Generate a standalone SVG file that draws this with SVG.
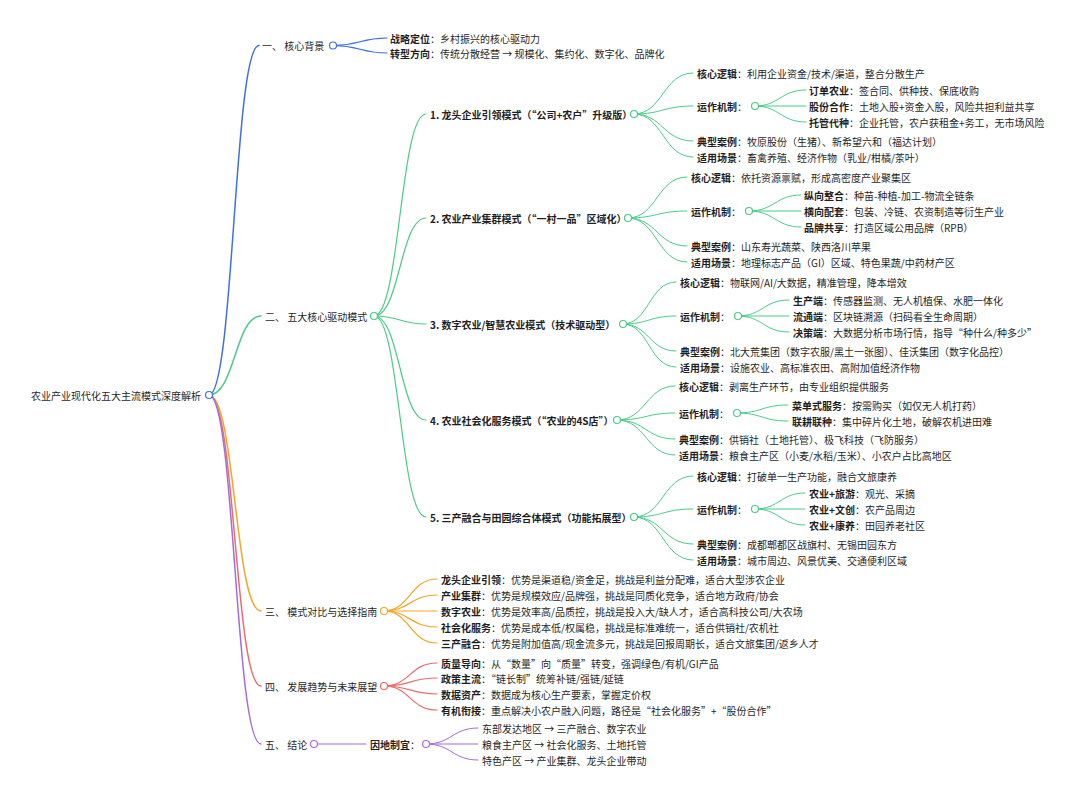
<svg xmlns="http://www.w3.org/2000/svg" width="1080" height="796" viewBox="0 0 1080 796">
<style>
text{font-family:"Noto Sans CJK SC","Noto Sans",sans-serif;font-size:10px;fill:#1f1f1f;dominant-baseline:central}
.b{font-weight:bold}
.l{fill:none;stroke-linecap:round}
.w1{stroke-width:1.5}
.w2{stroke-width:1.2}
.w3{stroke-width:1}
.cb{stroke:#3f70e4}
.cg{stroke:#4acb86}
.co{stroke:#f4a62a}
.cr{stroke:#ec6b6b}
.cp{stroke:#a56be0}
circle{fill:#fff;stroke-width:1.2}
</style>
<rect width="1080" height="796" fill="#fff"/>
<g id="connectors">
<path class="l w1 cb" d="M209,395 C234,395 234,45.5 259,45.5"/>
<path class="l w1 cg" d="M209,395 C235,395 235,316 261,316"/>
<path class="l w1 co" d="M209,395 C235,395 235,611 261,611"/>
<path class="l w1 cr" d="M209,395 C235,395 235,686 261,686"/>
<path class="l w1 cp" d="M209,395 C235,395 235,744 261,744"/>
<path class="l w2 cb" d="M333,45.5 C360,45.5 360,38 387,38"/>
<path class="l w2 cb" d="M333,45.5 C360,45.5 360,53 387,53"/>
<path class="l w2 cg" d="M374,316 C400,316 400,114 426,114"/>
<path class="l w2 cg" d="M374,316 C400,316 400,218 426,218"/>
<path class="l w2 cg" d="M374,316 C400,316 400,324 426,324"/>
<path class="l w2 cg" d="M374,316 C400,316 400,420 426,420"/>
<path class="l w2 cg" d="M374,316 C400,316 400,517 426,517"/>
<path class="l w3 cg" d="M634,114 C663,114 663,73 693,73"/>
<path class="l w3 cg" d="M634,114 C663,114 663,106 693,106"/>
<path class="l w3 cg" d="M634,114 C663,114 663,141 693,141"/>
<path class="l w3 cg" d="M634,114 C663,114 663,157 693,157"/>
<path class="l w3 cg" d="M755,106 C780,106 780,90 806,90"/>
<path class="l w3 cg" d="M755,106 L806,106"/>
<path class="l w3 cg" d="M755,106 C780,106 780,122 806,122"/>
<path class="l w3 cg" d="M628,218 C657,218 657,177 687,177"/>
<path class="l w3 cg" d="M628,218 C657,218 657,211 687,211"/>
<path class="l w3 cg" d="M628,218 C657,218 657,246 687,246"/>
<path class="l w3 cg" d="M628,218 C657,218 657,262 687,262"/>
<path class="l w3 cg" d="M749,211 C775,211 775,195 801,195"/>
<path class="l w3 cg" d="M749,211 L801,211"/>
<path class="l w3 cg" d="M749,211 C775,211 775,227 801,227"/>
<path class="l w3 cg" d="M623,324 C649,324 649,282 676,282"/>
<path class="l w3 cg" d="M623,324 C649,324 649,316 676,316"/>
<path class="l w3 cg" d="M623,324 C649,324 649,351 676,351"/>
<path class="l w3 cg" d="M623,324 C649,324 649,367 676,367"/>
<path class="l w3 cg" d="M738,316 C763,316 763,300 789,300"/>
<path class="l w3 cg" d="M738,316 L789,316"/>
<path class="l w3 cg" d="M738,316 C763,316 763,332 789,332"/>
<path class="l w3 cg" d="M617,420 C646,420 646,386 675,386"/>
<path class="l w3 cg" d="M617,420 C646,420 646,413 675,413"/>
<path class="l w3 cg" d="M617,420 C646,420 646,439 675,439"/>
<path class="l w3 cg" d="M617,420 C646,420 646,455 675,455"/>
<path class="l w3 cg" d="M737,413 C762,413 762,405 788,405"/>
<path class="l w3 cg" d="M737,413 C762,413 762,421 788,421"/>
<path class="l w3 cg" d="M634,517 C663,517 663,476 693,476"/>
<path class="l w3 cg" d="M634,517 C663,517 663,509 693,509"/>
<path class="l w3 cg" d="M634,517 C663,517 663,544 693,544"/>
<path class="l w3 cg" d="M634,517 C663,517 663,560 693,560"/>
<path class="l w3 cg" d="M755,509 C780,509 780,493 805,493"/>
<path class="l w3 cg" d="M755,509 L805,509"/>
<path class="l w3 cg" d="M755,509 C780,509 780,525 805,525"/>
<path class="l w2 co" d="M384,611 C410,611 410,579 437,579"/>
<path class="l w2 co" d="M384,611 C410,611 410,595 437,595"/>
<path class="l w2 co" d="M384,611 L437,611"/>
<path class="l w2 co" d="M384,611 C410,611 410,627 437,627"/>
<path class="l w2 co" d="M384,611 C410,611 410,643 437,643"/>
<path class="l w2 cr" d="M384,686 C410,686 410,663 437,663"/>
<path class="l w2 cr" d="M384,686 C410,686 410,678 437,678"/>
<path class="l w2 cr" d="M384,686 C410,686 410,694 437,694"/>
<path class="l w2 cr" d="M384,686 C410,686 410,710 437,710"/>
<path class="l w2 cp" d="M314,744 L366,744"/>
<path class="l w3 cp" d="M426,744 C452,744 452,728 478,728"/>
<path class="l w3 cp" d="M426,744 L478,744"/>
<path class="l w3 cp" d="M426,744 C452,744 452,760 478,760"/>
</g>

<g id="root"><text x="31" y="395">农业产业现代化五大主流模式深度解析</text><circle class="cb" cx="209" cy="395" r="3.5"/></g>

<g id="s1"><text x="262" y="45.5">一、 核心背景</text><circle class="cb" cx="333" cy="45.5" r="3.5"/></g>
<g id="s1-a"><text x="390" y="38"><tspan class="b">战略定位</tspan>：乡村振兴的核心驱动力</text></g>
<g id="s1-b"><text x="390" y="53"><tspan class="b">转型方向</tspan>：传统分散经营 → 规模化、集约化、数字化、品牌化</text></g>

<g id="s2"><text x="265" y="316">二、 五大核心驱动模式</text><circle class="cg" cx="374" cy="316" r="3.5"/></g>

<g id="m1"><text class="b" x="430" y="114">1. 龙头企业引领模式（“公司+农户”升级版）</text><circle class="cg" cx="634" cy="114" r="3.5"/></g>
<g id="m1-logic"><text x="697" y="73"><tspan class="b">核心逻辑</tspan>：利用企业资金/技术/渠道，整合分散生产</text></g>
<g id="m1-mech"><text x="697" y="106"><tspan class="b">运作机制</tspan>：</text><circle class="cg" cx="755" cy="106" r="3.5"/></g>
<g id="m1-m1"><text x="809" y="90"><tspan class="b">订单农业</tspan>：签合同、供种技、保底收购</text></g>
<g id="m1-m2"><text x="809" y="106"><tspan class="b">股份合作</tspan>：土地入股+资金入股，风险共担利益共享</text></g>
<g id="m1-m3"><text x="809" y="122"><tspan class="b">托管代种</tspan>：企业托管，农户获租金+务工，无市场风险</text></g>
<g id="m1-case"><text x="697" y="141"><tspan class="b">典型案例</tspan>：牧原股份（生猪）、新希望六和（福达计划）</text></g>
<g id="m1-scene"><text x="697" y="157"><tspan class="b">适用场景</tspan>：畜禽养殖、经济作物（乳业/柑橘/茶叶）</text></g>

<g id="m2"><text class="b" x="430" y="218">2. 农业产业集群模式（“一村一品”区域化）</text><circle class="cg" cx="628" cy="218" r="3.5"/></g>
<g id="m2-logic"><text x="691" y="177"><tspan class="b">核心逻辑</tspan>：依托资源禀赋，形成高密度产业聚集区</text></g>
<g id="m2-mech"><text x="691" y="211"><tspan class="b">运作机制</tspan>：</text><circle class="cg" cx="749" cy="211" r="3.5"/></g>
<g id="m2-m1"><text x="804" y="195"><tspan class="b">纵向整合</tspan>：种苗-种植-加工-物流全链条</text></g>
<g id="m2-m2"><text x="804" y="211"><tspan class="b">横向配套</tspan>：包装、冷链、农资制造等衍生产业</text></g>
<g id="m2-m3"><text x="804" y="227"><tspan class="b">品牌共享</tspan>：打造区域公用品牌（RPB）</text></g>
<g id="m2-case"><text x="691" y="246"><tspan class="b">典型案例</tspan>：山东寿光蔬菜、陕西洛川苹果</text></g>
<g id="m2-scene"><text x="691" y="262"><tspan class="b">适用场景</tspan>：地理标志产品（GI）区域、特色果蔬/中药材产区</text></g>

<g id="m3"><text class="b" x="430" y="324">3. 数字农业/智慧农业模式（技术驱动型）</text><circle class="cg" cx="623" cy="324" r="3.5"/></g>
<g id="m3-logic"><text x="680" y="282"><tspan class="b">核心逻辑</tspan>：物联网/AI/大数据，精准管理，降本增效</text></g>
<g id="m3-mech"><text x="680" y="316"><tspan class="b">运作机制</tspan>：</text><circle class="cg" cx="738" cy="316" r="3.5"/></g>
<g id="m3-m1"><text x="793" y="300"><tspan class="b">生产端</tspan>：传感器监测、无人机植保、水肥一体化</text></g>
<g id="m3-m2"><text x="793" y="316"><tspan class="b">流通端</tspan>：区块链溯源（扫码看全生命周期）</text></g>
<g id="m3-m3"><text x="793" y="332"><tspan class="b">决策端</tspan>：大数据分析市场行情，指导“种什么/种多少”</text></g>
<g id="m3-case"><text x="680" y="351"><tspan class="b">典型案例</tspan>：北大荒集团（数字农服/黑土一张图）、佳沃集团（数字化品控）</text></g>
<g id="m3-scene"><text x="680" y="367"><tspan class="b">适用场景</tspan>：设施农业、高标准农田、高附加值经济作物</text></g>

<g id="m4"><text class="b" x="430" y="420">4. 农业社会化服务模式（“农业的4S店”）</text><circle class="cg" cx="617" cy="420" r="3.5"/></g>
<g id="m4-logic"><text x="679" y="386"><tspan class="b">核心逻辑</tspan>：剥离生产环节，由专业组织提供服务</text></g>
<g id="m4-mech"><text x="679" y="413"><tspan class="b">运作机制</tspan>：</text><circle class="cg" cx="737" cy="413" r="3.5"/></g>
<g id="m4-m1"><text x="792" y="405"><tspan class="b">菜单式服务</tspan>：按需购买（如仅无人机打药）</text></g>
<g id="m4-m2"><text x="792" y="421"><tspan class="b">联耕联种</tspan>：集中碎片化土地，破解农机进田难</text></g>
<g id="m4-case"><text x="679" y="439"><tspan class="b">典型案例</tspan>：供销社（土地托管）、极飞科技（飞防服务）</text></g>
<g id="m4-scene"><text x="679" y="455"><tspan class="b">适用场景</tspan>：粮食主产区（小麦/水稻/玉米）、小农户占比高地区</text></g>

<g id="m5"><text class="b" x="430" y="517">5. 三产融合与田园综合体模式（功能拓展型）</text><circle class="cg" cx="634" cy="517" r="3.5"/></g>
<g id="m5-logic"><text x="697" y="476"><tspan class="b">核心逻辑</tspan>：打破单一生产功能，融合文旅康养</text></g>
<g id="m5-mech"><text x="697" y="509"><tspan class="b">运作机制</tspan>：</text><circle class="cg" cx="755" cy="509" r="3.5"/></g>
<g id="m5-m1"><text x="809" y="493"><tspan class="b">农业+旅游</tspan>：观光、采摘</text></g>
<g id="m5-m2"><text x="809" y="509"><tspan class="b">农业+文创</tspan>：农产品周边</text></g>
<g id="m5-m3"><text x="809" y="525"><tspan class="b">农业+康养</tspan>：田园养老社区</text></g>
<g id="m5-case"><text x="697" y="544"><tspan class="b">典型案例</tspan>：成都郫都区战旗村、无锡田园东方</text></g>
<g id="m5-scene"><text x="697" y="560"><tspan class="b">适用场景</tspan>：城市周边、风景优美、交通便利区域</text></g>

<g id="s3"><text x="265" y="611">三、 模式对比与选择指南</text><circle class="co" cx="384" cy="611" r="3.5"/></g>
<g id="s3-1"><text x="441" y="579"><tspan class="b">龙头企业引领</tspan>：优势是渠道稳/资金足，挑战是利益分配难，适合大型涉农企业</text></g>
<g id="s3-2"><text x="441" y="595"><tspan class="b">产业集群</tspan>：优势是规模效应/品牌强，挑战是同质化竞争，适合地方政府/协会</text></g>
<g id="s3-3"><text x="441" y="611"><tspan class="b">数字农业</tspan>：优势是效率高/品质控，挑战是投入大/缺人才，适合高科技公司/大农场</text></g>
<g id="s3-4"><text x="441" y="627"><tspan class="b">社会化服务</tspan>：优势是成本低/权属稳，挑战是标准难统一，适合供销社/农机社</text></g>
<g id="s3-5"><text x="441" y="643"><tspan class="b">三产融合</tspan>：优势是附加值高/现金流多元，挑战是回报周期长，适合文旅集团/返乡人才</text></g>

<g id="s4"><text x="265" y="686">四、 发展趋势与未来展望</text><circle class="cr" cx="384" cy="686" r="3.5"/></g>
<g id="s4-1"><text x="441" y="663"><tspan class="b">质量导向</tspan>：从“数量”向“质量”转变，强调绿色/有机/GI产品</text></g>
<g id="s4-2"><text x="441" y="678"><tspan class="b">政策主流</tspan>：“链长制”统筹补链/强链/延链</text></g>
<g id="s4-3"><text x="441" y="694"><tspan class="b">数据资产</tspan>：数据成为核心生产要素，掌握定价权</text></g>
<g id="s4-4"><text x="441" y="710"><tspan class="b">有机衔接</tspan>：重点解决小农户融入问题，路径是“社会化服务”+“股份合作”</text></g>

<g id="s5"><text x="265" y="744">五、 结论</text><circle class="cp" cx="314" cy="744" r="3.5"/></g>
<g id="s5-a"><text x="370" y="744"><tspan class="b">因地制宜</tspan>：</text><circle class="cp" cx="426" cy="744" r="3.5"/></g>
<g id="s5-1"><text x="482" y="728">东部发达地区 → 三产融合、数字农业</text></g>
<g id="s5-2"><text x="482" y="744">粮食主产区 → 社会化服务、土地托管</text></g>
<g id="s5-3"><text x="482" y="760">特色产区 → 产业集群、龙头企业带动</text></g>
</svg>
